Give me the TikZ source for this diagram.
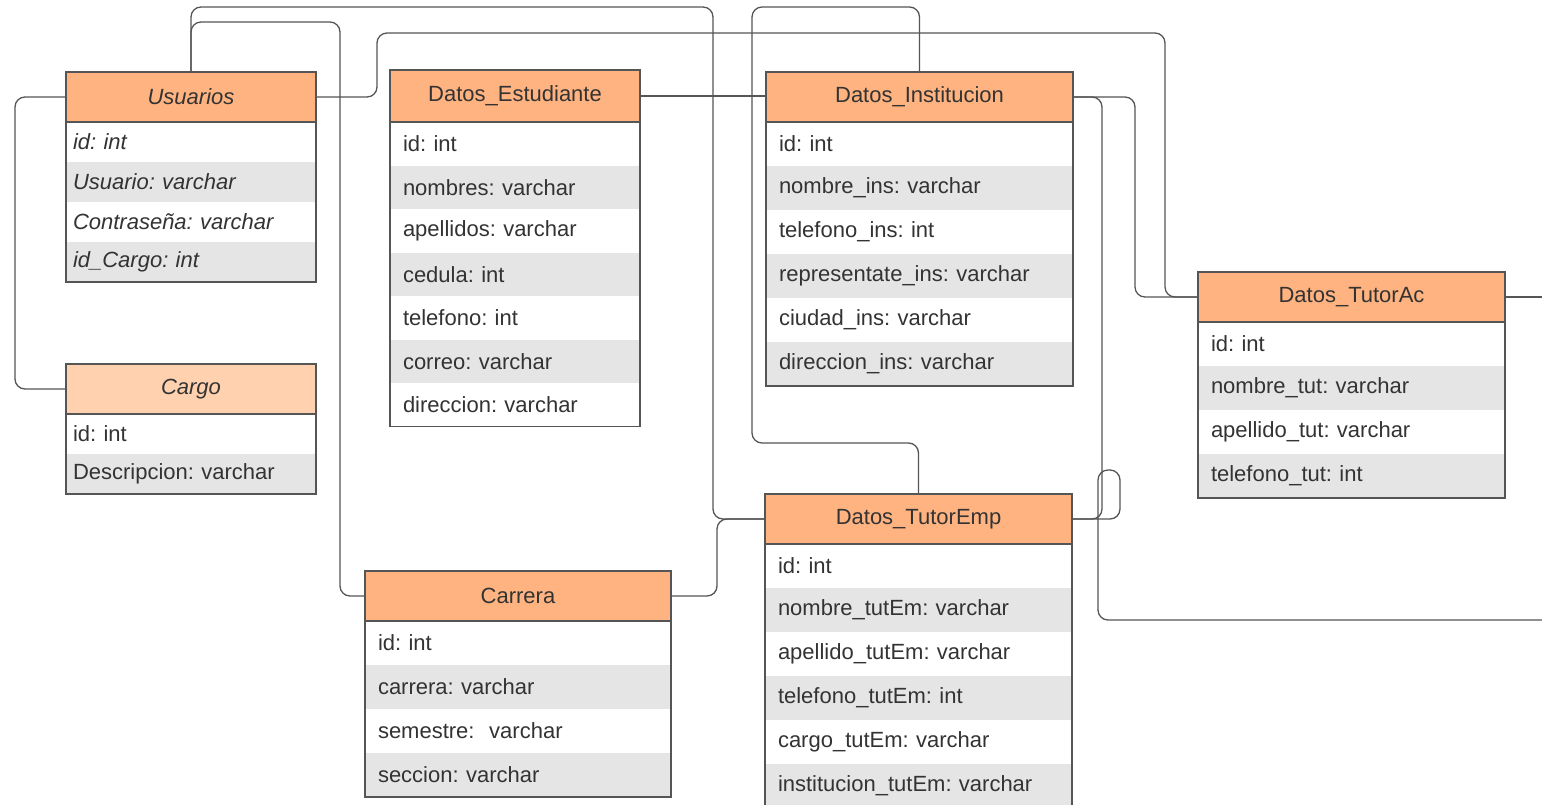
\documentclass[tikz,border=0pt]{standalone}
\usepackage{fontspec}
\setmainfont{Liberation Sans}
\usepackage{xcolor}
\usepackage{tikz}
\usetikzlibrary{positioning,calc}
\frenchspacing

\definecolor{headc}{HTML}{FFB380}
\definecolor{headlt}{HTML}{FFD1AF}
\definecolor{rowgray}{HTML}{E5E5E5}
\definecolor{edgec}{HTML}{555555}
\definecolor{txtc}{HTML}{333333}
\newcommand{\tblfont}{\fontsize{22}{26}\selectfont}

\begin{document}
\begin{tikzpicture}[
    x=1pt, y=-1pt,
    hdr/.style={draw=edgec, line width=1.3pt, fill=headc, minimum width=#1,
                minimum height=50pt, inner sep=0pt, outer sep=0pt,
                font=\tblfont, text=txtc},
    fld/.style={fill=white, text width=#1, inner xsep=13pt, inner ysep=0pt,
                minimum height=44pt, outer sep=0pt, align=left,
                font=\tblfont, text=txtc},
    grey/.style={fill=rowgray},
    narrow/.style={inner xsep=7pt},
    it/.style={font=\tblfont\itshape},
    frame/.style={draw=edgec, line width=1.3pt},
    link/.style={draw=edgec, line width=1.3pt, rounded corners=10pt},
]
  \useasboundingbox (0,0) rectangle (1542,804);
  \clip (0,0) rectangle (1542,804);
  \fill[white] (0,0) rectangle (1542,804);

  % loose ends towards tables further right
  \coordinate (outtac) at (1560,297);
  \coordinate (outemp) at (1560,620);

  % table headers
  \node[hdr=250pt, it] (usu) at (191,97) {Usuarios};
  \node[hdr=250pt, it, fill=headlt] (cargo) at (191,389) {Cargo};
  \node[hdr=250pt, minimum height=52pt] (est) at (515,96) {Datos\_Estudiante};
  \node[hdr=307pt] (inst) at (919.5,97) {Datos\_Institucion};
  \node[hdr=307pt] (tac) at (1351.5,297) {Datos\_TutorAc};
  \node[hdr=307pt] (temp) at (918.5,519) {Datos\_TutorEmp};
  \node[hdr=306pt] (carr) at (518,596) {Carrera};

  % relations
  \draw[link] (usu.west) -- ++(-51,0) |- (cargo.west);
  \draw[link] (usu.north) |- (713,7) |- (temp.west);
  \draw[link] (usu.north) |- (340,22) |- (carr.west);
  \draw[link] (usu.east) -- ++(61,0) |- (1165,33) |- (tac.west);
  \draw[link] (est.east) -- (est.east -| inst.west);
  \draw[link] (inst.north) |- (752,7) |- ([yshift=51pt]temp.north) -- (temp.north);
  \draw[link] (inst.east) -| ([xshift=30pt]temp.east) -- (temp.east);
  \draw[link] (inst.east) -| ([xshift=-63pt]tac.west) -- (tac.west);
  \draw[link] (carr.east) -- ++(46,0) |- (temp.west);
  \draw[link] (temp.east) -- ++(48,0) -- ++(0,-49) -- ++(-22,0) -- ++(0,150) -- (outemp);
  \draw[link] (tac.east) -- (outtac);

  % headers again on top of the lines
  \node[hdr=250pt, it] at (usu) {Usuarios};
  \node[hdr=250pt, it, fill=headlt] at (cargo) {Cargo};
  \node[hdr=250pt, minimum height=52pt] at (est) {Datos\_Estudiante};
  \node[hdr=307pt] at (inst) {Datos\_Institucion};
  \node[hdr=307pt] at (tac) {Datos\_TutorAc};
  \node[hdr=307pt] at (temp) {Datos\_TutorEmp};
  \node[hdr=306pt] at (carr) {Carrera};

  % Usuarios
  \node[fld=236pt, narrow, it, minimum height=40pt, below=0pt of usu] (usu1) {id: int};
  \node[fld=236pt, narrow, it, grey, minimum height=40pt, below=0pt of usu1] (usu2) {Usuario: varchar};
  \node[fld=236pt, narrow, it, minimum height=40pt, below=0pt of usu2] (usu3) {Contraseña: varchar};
  \node[fld=236pt, narrow, it, grey, minimum height=40pt, below=0pt of usu3] (usu4) {id\_Cargo: int};
  \draw[frame] (usu1.north west) rectangle (usu4.south east);

  % Cargo
  \node[fld=236pt, narrow, minimum height=40pt, below=0pt of cargo] (cargo1) {id: int};
  \node[fld=236pt, narrow, grey, minimum height=40pt, below=0pt of cargo1] (cargo2) {Descripcion: varchar};
  \draw[frame] (cargo1.north west) rectangle (cargo2.south east);

  % Datos_Estudiante
  \node[fld=224pt, minimum height=43.5pt, below=0pt of est] (est1) {id: int};
  \node[fld=224pt, grey, minimum height=43.5pt, below=0pt of est1] (est2) {nombres: varchar};
  \node[fld=224pt, minimum height=43.5pt, below=0pt of est2] (est3) {apellidos: varchar};
  \node[fld=224pt, grey, minimum height=43.5pt, below=0pt of est3] (est4) {cedula: int};
  \node[fld=224pt, minimum height=43.5pt, below=0pt of est4] (est5) {telefono: int};
  \node[fld=224pt, grey, minimum height=43.5pt, below=0pt of est5] (est6) {correo: varchar};
  \node[fld=224pt, minimum height=43.5pt, below=0pt of est6] (est7) {direccion: varchar};
  \draw[frame] (est1.north west) rectangle (est7.south east);

  % Datos_Institucion
  \node[fld=281pt, below=0pt of inst] (inst1) {id: int};
  \node[fld=281pt, grey, below=0pt of inst1] (inst2) {nombre\_ins: varchar};
  \node[fld=281pt, below=0pt of inst2] (inst3) {telefono\_ins: int};
  \node[fld=281pt, grey, below=0pt of inst3] (inst4) {representate\_ins: varchar};
  \node[fld=281pt, below=0pt of inst4] (inst5) {ciudad\_ins: varchar};
  \node[fld=281pt, grey, below=0pt of inst5] (inst6) {direccion\_ins: varchar};
  \draw[frame] (inst1.north west) rectangle (inst6.south east);

  % Datos_TutorAc
  \node[fld=281pt, below=0pt of tac] (tac1) {id: int};
  \node[fld=281pt, grey, below=0pt of tac1] (tac2) {nombre\_tut: varchar};
  \node[fld=281pt, below=0pt of tac2] (tac3) {apellido\_tut: varchar};
  \node[fld=281pt, grey, below=0pt of tac3] (tac4) {telefono\_tut: int};
  \draw[frame] (tac1.north west) rectangle (tac4.south east);

  % Datos_TutorEmp
  \node[fld=281pt, below=0pt of temp] (temp1) {id: int};
  \node[fld=281pt, grey, below=0pt of temp1] (temp2) {nombre\_tutEm: varchar};
  \node[fld=281pt, below=0pt of temp2] (temp3) {apellido\_tutEm: varchar};
  \node[fld=281pt, grey, below=0pt of temp3] (temp4) {telefono\_tutEm: int};
  \node[fld=281pt, below=0pt of temp4] (temp5) {cargo\_tutEm: varchar};
  \node[fld=281pt, grey, below=0pt of temp5] (temp6) {institucion\_tutEm: varchar};
  \draw[frame] (temp1.north west) rectangle (temp6.south east);

  % Carrera
  \node[fld=280pt, below=0pt of carr] (carr1) {id: int};
  \node[fld=280pt, grey, below=0pt of carr1] (carr2) {carrera: varchar};
  \node[fld=280pt, below=0pt of carr2] (carr3) {semestre:~ varchar};
  \node[fld=280pt, grey, below=0pt of carr3] (carr4) {seccion: varchar};
  \draw[frame] (carr1.north west) rectangle (carr4.south east);
\end{tikzpicture}
\end{document}
